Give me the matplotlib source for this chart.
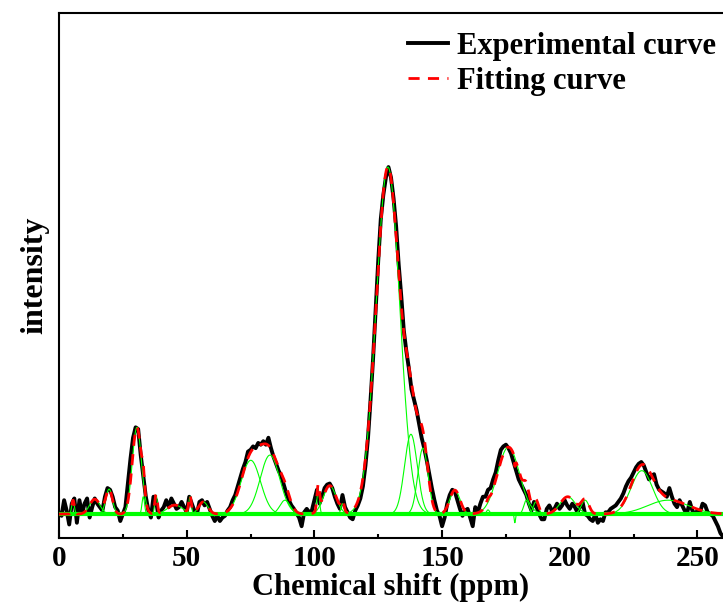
import numpy as np
import matplotlib
matplotlib.use("Agg")
import matplotlib.pyplot as plt

# experimental spectrum at 1 ppm steps (main peak = 100)
exp_ppm = np.arange(0, 261)
exp_intensity = [
    0.5, -0.5, 4, 1, -3, 3, 4.5, -2.5, 4, 0, 3, 4.5, -1, 2, 4.5, 3, 2, 1, 5, 7.5,
    7, 5, 2, 1, -2, 0, 2, 9, 16, 22, 25, 24.5, 17, 11, 5, 1, -1, 5, 4, -1,
    1, 2, 4, 2, 4.5, 3,
    1.5, 2, 3.5, 2, 0.5, 5, 3, 1, 0, 3.5, 4, 2.5, 3.5, 1.5, -0.5, -2, -0.5, -2, -1, -0.5,
    1, 2, 4, 5.5, 8, 10.5, 13, 15, 18, 18.5, 19.5, 19, 20.5, 20, 21, 20, 22, 19, 16.5, 14.5,
    12.5, 11, 8.5, 6, 4,
    2.5, 1.5, 0.2, -1, -3.5, 0.5, 1.5, 0.5, 1, 4, 7, 3, 5, 7.5, 8.5, 8.8, 7.5, 5, 3, 1.5,
    5.5, 2, 0.5, -1, -1.5, 1, 2.5, 4.5, 8, 14, 22, 33, 45, 59, 73, 85, 92, 97, 100, 97,
    91, 83, 72, 63, 53, 47,
    42, 36, 33, 30, 26, 22, 19, 15.5, 11.5, 7.5, 4, 1, -0.5, -3.5, -1, 3, 5.5, 7, 6.5, 4,
    1.5, -0.5, 1, 1.5, -1, -3.5, 2, 0.5, 3, 5, 5, 7, 7.5, 10, 12, 15.5, 18.5, 19.5, 20, 19,
    17.5, 15, 12.5, 10,
    8.5, 7, 5.5, 3, 1, 3.5, 2, 0, -1.5, -1.5, 1.5, 2.5, 1, 1.5, 3, 1.5, 2.5, 4, 2.5, 1.5,
    3, 2, 0.5, 2, 3.5, 0, -0.5, -1.5, -2, 0, -2.5, -1.5, -2, 0.5, 0.5, 1.5, 2, 2.5, 3.5, 4.5,
    6, 8, 9.5, 10.5, 12, 13.5, 14.5, 15, 14, 12, 10, 11, 11.5, 8.5, 7, 6.5, 6, 5, 7.5, 5,
    3, 2, 4, 2.5, 1, 0.5, 3.5, 1, 0, 1, 0.5, 3, 2.5, 0.5, 0, -0.5, -2, -3.5, -5.5, -6.5,
]

# fitted gaussian components: centre (ppm), height, width (sigma, ppm)
peak_center = [5.5, 14, 19.6, 30.5, 33, 38, 45.4, 51.3, 56.5, 75.1, 82.6, 88.5,
               101.5, 106, 111, 128.8, 137.8, 142.5, 155, 168, 176, 178.5, 183,
               186.7, 199.2, 206, 228.2, 238.5]
peak_height = [4, 4.3, 7.2, 25, 5, 5.5, 2.6, 5, 3.5, 15.5, 17, 4,
               7, 8.2, 3, 100, 23, 19, 6.9, 1.2, 19.3, -2.5, 4,
               3.5, 5, 4, 12.5, 4]
peak_sigma = [0.5, 2, 1.3, 1.8, 0.5, 0.5, 3, 0.5, 1.8, 3.8, 3.8, 2,
              0.5, 2.5, 0.6, 4.6, 2.5, 2.0, 2, 0.6, 4.3, 0.25, 1,
              1, 3, 1.5, 4.2, 8]

plt.rcParams['font.family'] = ['Liberation Serif', 'DejaVu Serif']
plt.rcParams['font.weight'] = 'bold'

fig = plt.figure(figsize=(7.23, 6.08), dpi=100)
ax = fig.add_axes([0.0816, 0.1151, 0.9184, 0.8635])

x = np.linspace(0, 260, 2601)
components = [h * np.exp(-(x - c) ** 2 / (2 * s ** 2))
              for c, h, s in zip(peak_center, peak_height, peak_sigma)]
fit = np.sum(components, axis=0)

ax.plot(exp_ppm, exp_intensity, color='black', lw=2.8, zorder=2,
        label='Experimental curve')
ax.axhline(0, color='#00ff00', lw=3, zorder=3)
for comp in components:
    ax.plot(x, comp, color='#00ff00', lw=0.8, zorder=3)
ax.plot(x, fit, color='red', lw=2, dashes=(4, 3), zorder=4, label='Fitting curve')

ax.set_xlim(0, 260)
ax.set_ylim(-6.9, 144.4)
ax.set_xticks([0, 50, 100, 150, 200, 250])
ax.set_xticks([25, 75, 125, 175, 225], minor=True)
ax.set_yticks([])
ax.tick_params(axis='x', which='major', direction='in', length=6, width=1.5,
               labelsize=21, pad=5)
ax.tick_params(axis='x', which='minor', direction='in', length=3, width=1.5)
for side in ['left', 'bottom', 'top']:
    ax.spines[side].set_linewidth(1.5)
ax.spines['right'].set_visible(False)

ax.set_xlabel('Chemical shift (ppm)', fontsize=22, fontweight='bold', labelpad=1)
ax.set_ylabel('intensity', fontsize=23, fontweight='bold', labelpad=7)

leg = ax.legend(loc='upper right', bbox_to_anchor=(1.008, 0.988), frameon=False,
                fontsize=22, handlelength=1.3, handletextpad=0.3,
                labelspacing=0.2, borderaxespad=0)

fig.savefig('out.png', dpi=100)
